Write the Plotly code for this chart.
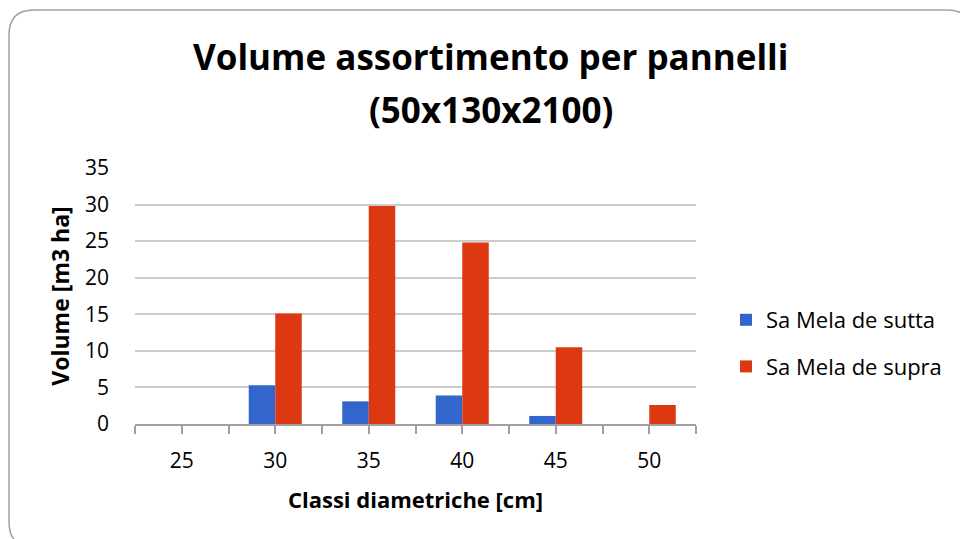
import plotly.graph_objects as go

# Diameter classes (cm) and assortment volume per hectare (m3/ha)
diametri = [25, 30, 35, 40, 45, 50]
sutta = [None, 5.3, 3.1, 3.9, 1.1, None]
supra = [None, 15.1, 29.8, 24.8, 10.5, 2.6]
serie = ["Sa Mela de sutta", "Sa Mela de supra"]
colori = ["#3366CC", "#DC3912"]

W, H = 960, 539
L, R, T, B = 135, 264, 168, 115
FONT = "Open Sans"

step = diametri[1] - diametri[0]
x_range = [diametri[0] - step / 2, diametri[-1] + step / 2]
# tick marks at each class centre and at the boundaries between classes
tick_pos = [x_range[0] + i * step / 2 for i in range(2 * len(diametri) + 1)]
tick_txt = [str(int(d)) if d in diametri else "" for d in tick_pos]


def px(xp, yp):
    """Pixel position on the page -> paper coordinates."""
    return (xp - L) / (W - L - R), (H - B - yp) / (H - T - B)


fig = go.Figure()
for name, vals, col in zip(serie, [sutta, supra], colori):
    fig.add_trace(go.Bar(x=diametri, y=vals, name=name, marker_color=col,
                         marker_line_width=0, legendgroup=name))

# rounded frame around the chart
x0, y0, x1, y1, r = 9, 10, 972, 547, 25
pts = [
    ("M", [(x0 + r, y0)]), ("L", [(x1 - r, y0)]), ("Q", [(x1, y0), (x1, y0 + r)]),
    ("L", [(x1, y1 - r)]), ("Q", [(x1, y1), (x1 - r, y1)]), ("L", [(x0 + r, y1)]),
    ("Q", [(x0, y1), (x0, y1 - r)]), ("L", [(x0, y0 + r)]), ("Q", [(x0, y0), (x0 + r, y0)]),
]
path = ""
for cmd, cs in pts:
    path += cmd + " ".join("%.5f,%.5f" % px(a, b) for a, b in cs) + " "
path += "Z"

fig.add_shape(type="path", path=path, xref="paper", yref="paper",
              line=dict(color="#a0a0a0", width=1.5), layer="above")

title_lines = ["Volume assortimento per pannelli", "(50x130x2100)"]
for txt, yy in zip(title_lines, [56, 109]):
    fig.add_annotation(text="<b>%s</b>" % txt, x=px(491, 0)[0], y=px(0, yy)[1],
                       xref="paper", yref="paper", showarrow=False,
                       xanchor="center", yanchor="middle",
                       font=dict(family=FONT, size=35, color="#000000"))

fig.update_layout(
    width=W, height=H,
    margin=dict(l=L, r=R, t=T, b=B, autoexpand=False),
    paper_bgcolor="white", plot_bgcolor="white",
    barmode="group", bargap=0.433, bargroupgap=0,
    font=dict(family=FONT, color="#000000"),
    showlegend=True,
    legend=dict(x=px(726, 0)[0], y=px(0, 299)[1], xanchor="left", yanchor="top",
                font=dict(family=FONT, size=22, color="#000000"),
                tracegroupgap=15, bgcolor="rgba(0,0,0,0)"),
    xaxis=dict(range=x_range, tickmode="array", tickvals=tick_pos, ticktext=tick_txt,
               ticks="outside", ticklen=8, tickwidth=1.5, tickcolor="#a0a0a0",
               showline=True, linecolor="#a0a0a0", linewidth=1.5,
               showgrid=False, zeroline=False, ticklabelstandoff=9,
               tickfont=dict(family=FONT, size=21, color="#000000"),
               title=dict(text="<b>Classi diametriche [cm]</b>", standoff=20,
                          font=dict(family=FONT, size=22, color="#000000"))),
    xaxis2=dict(range=x_range, overlaying="x", anchor="y", side="bottom",
                tickmode="array", tickvals=tick_pos, ticks="inside", ticklen=8,
                tickwidth=1.5, tickcolor="#a0a0a0", showticklabels=False,
                showgrid=False, showline=False, zeroline=False),
    yaxis=dict(range=[0, 35], dtick=5, showgrid=True, gridcolor="#cccccc",
               gridwidth=1.5, zeroline=False, showline=False, ticks="",
               ticklabelstandoff=25,
               tickfont=dict(family=FONT, size=21, color="#000000"),
               title=dict(text="<b>Volume [m3 ha]</b>", standoff=8,
                          font=dict(family=FONT, size=23, color="#000000"))),
)

fig.write_html("out.html")
